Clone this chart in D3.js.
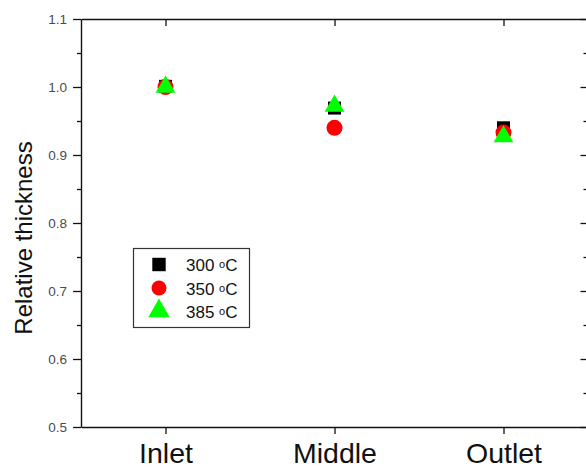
<!DOCTYPE html>
<html><head><meta charset="utf-8">
<script src="https://cdn.jsdelivr.net/npm/d3@7"></script>
<style>body{margin:0;background:#fff;}svg{display:block;font-family:"Liberation Sans",Arial,sans-serif;}</style>
</head><body>
<svg id="c" width="586" height="468"></svg>
<script>
const categories = ["Inlet", "Middle", "Outlet"];
const seriesNames = ["300", "350", "385"];
const s300 = [1.001, 0.969, 0.940];
const s350 = [1.000, 0.940, 0.933];
const s385 = [1.000, 0.972, 0.927];
const yTicks = [0.5, 0.6, 0.7, 0.8, 0.9, 1.0, 1.1];
const yMinor = [0.55, 0.65, 0.75, 0.85, 0.95, 1.05];

const svg = d3.select("#c");
const L = 81, R = 588, T = 19, B = 427;
const x = d3.scaleLinear().domain([0.5, 3.5]).range([L, R]);
const y = d3.scaleLinear().domain([0.5, 1.1]).range([B, T]);
const idx = categories.map((d, i) => i + 1);

// left axis
const gl = svg.append("g").attr("transform", `translate(${L},0)`)
  .call(d3.axisLeft(y).tickValues(yTicks).tickFormat(d3.format(".1f")).tickSize(8).tickSizeOuter(0).tickPadding(6));
gl.selectAll(".tick text").attr("font-size", 13.5).attr("fill", "#4a4a52");
gl.append("g").call(d3.axisLeft(y).tickValues(yMinor).tickSize(4).tickFormat("")).select(".domain").remove();
// right axis (inward ticks)
const gr = svg.append("g").attr("transform", `translate(${R - 1.5},0)`)
  .call(d3.axisLeft(y).tickValues(yTicks).tickFormat("").tickSize(6).tickSizeOuter(0));
gr.append("g").call(d3.axisLeft(y).tickValues(yMinor).tickSize(3).tickFormat("")).select(".domain").remove();
// bottom axis
const gb = svg.append("g").attr("transform", `translate(0,${B})`)
  .call(d3.axisBottom(x).tickValues(idx).tickFormat((d) => categories[d - 1]).tickSize(7).tickSizeOuter(0).tickPadding(9));
gb.selectAll(".tick text").attr("font-size", 28.5).attr("fill", "#111").attr("dy", "0.71em");
// top axis (inward ticks)
svg.append("g").attr("transform", `translate(0,${T})`)
  .call(d3.axisBottom(x).tickValues(idx).tickFormat("").tickSize(7).tickSizeOuter(0));
svg.selectAll(".domain").attr("stroke", "#111").attr("stroke-width", 1.4);
svg.selectAll(".tick line").attr("stroke", "#111").attr("stroke-width", 1.3);

// y label
svg.append("text").attr("transform", "translate(32,238) rotate(-90)")
  .attr("text-anchor", "middle").attr("font-size", 24).attr("fill", "#111").text("Relative thickness");

const styles = [
  {data: s300, type: d3.symbolSquare, size: 169, color: "#000000"},
  {data: s350, type: d3.symbolCircle, size: 201, color: "#ff0000"},
  {data: s385, type: d3.symbolTriangle, size: 170, color: "#00ff00"}
];
styles.forEach((s) => {
  svg.append("g").selectAll("path").data(s.data).join("path")
    .attr("transform", (d, i) => `translate(${x(i + 1)},${y(d)})`)
    .attr("d", d3.symbol().type(s.type).size(s.size)())
    .attr("fill", s.color);
});

// legend
const lg = svg.append("g");
lg.append("rect").attr("x", 133.5).attr("y", 248.5).attr("width", 116).attr("height", 79)
  .attr("fill", "#fff").attr("stroke", "#333").attr("stroke-width", 1.2);
const legY = [264.5, 288, 311];
const legSizes = [180, 177, 200];
styles.forEach((s, i) => {
  lg.append("path").attr("transform", `translate(159,${legY[i]})`)
    .attr("d", d3.symbol().type(s.type).size(legSizes[i])()).attr("fill", s.color);
  const t = lg.append("text").attr("x", 186).attr("y", legY[i] + 6.5).attr("font-size", 17).attr("fill", "#111");
  t.append("tspan").text(seriesNames[i] + " ");
  t.append("tspan").attr("font-size", 11).attr("dy", -3).text("o");
  t.append("tspan").attr("dy", 3).text("C");
});
</script>
</body></html>
